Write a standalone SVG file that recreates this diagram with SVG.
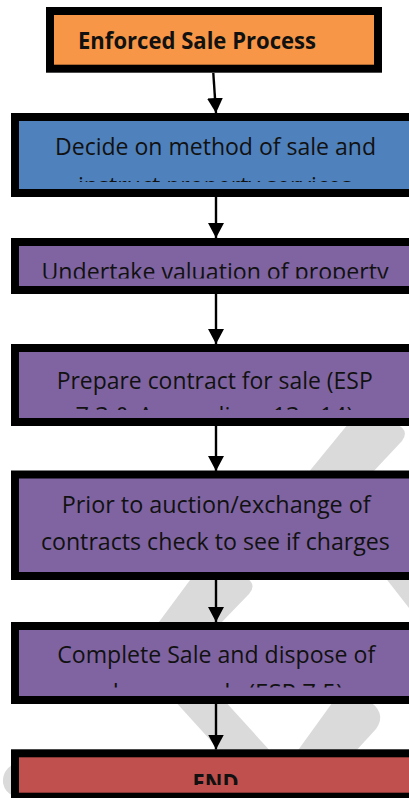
<svg xmlns="http://www.w3.org/2000/svg" width="409" height="798" viewBox="0 0 409 798">
<style>
.box{stroke:#000;stroke-width:8}
.t{font-family:"Open Sans","Liberation Sans",Arial,sans-serif;font-size:23px;fill:#111;text-anchor:middle}
.b{font-weight:bold}
.wm{fill:#dadada}
.c{stroke:#000;stroke-width:2.4;fill:none}
</style>
<defs>
<marker id="ah" markerUnits="userSpaceOnUse" markerWidth="18" markerHeight="17" refX="15" refY="8" orient="auto">
<path d="M0,0 L15,8 L0,16 Z" fill="#000"/>
</marker>
<clipPath id="c2"><rect x="19" y="120.7" width="390" height="61.3"/></clipPath>
<clipPath id="c3"><rect x="19" y="245.7" width="390" height="32.8"/></clipPath>
<clipPath id="c4"><rect x="19" y="351.7" width="390" height="58.3"/></clipPath>
<clipPath id="c6"><rect x="19" y="630" width="390" height="57.5"/></clipPath>
<clipPath id="c7"><rect x="19" y="757.3" width="390" height="27.7"/></clipPath>
</defs>
<rect width="409" height="798" fill="#fff"/>
<g id="watermark">
<path class="wm" d="M348,424 L396,424 Q410,430 402,441 L372,473 L308,473 Z"/>
<path class="wm" d="M193,576 L244,576 Q258,584 249,594 L218,626 L156,626 Z"/>
<path class="wm" d="M384,576 L409,576 L409,608 Z"/>
<path class="wm" d="M173,699 L223,699 L272,753 L222,753 Z"/>
<path class="wm" d="M335,699 L366,699 Q388,712 376,729 L354,753 L296,753 Z"/>
<path class="wm" d="M14,764 Q2,770 3,783 Q5,793 14,796 Z"/>
</g>
<g id="connectors">
<line class="c" x1="213.3" y1="73" x2="216" y2="113" marker-end="url(#ah)"/>
<line class="c" x1="216" y1="197" x2="216" y2="238" marker-end="url(#ah)"/>
<line class="c" x1="216" y1="294" x2="216" y2="344" marker-end="url(#ah)"/>
<line class="c" x1="216" y1="426" x2="216" y2="471" marker-end="url(#ah)"/>
<line class="c" x1="216" y1="580" x2="216" y2="622" marker-end="url(#ah)"/>
<line class="c" x1="216" y1="703" x2="216" y2="749.5" marker-end="url(#ah)"/>
</g>
<g id="n1">
<rect class="box" x="50" y="11" width="328" height="57.7" fill="#F79646"/>
<text class="t b" x="78" y="49" style="text-anchor:start" textLength="238" lengthAdjust="spacingAndGlyphs">Enforced Sale Process</text>
</g>
<g id="n2">
<rect class="box" x="15" y="117" width="410" height="76" fill="#4F81BD"/>
<g clip-path="url(#c2)">
<text class="t" x="215.5" y="155" textLength="321" lengthAdjust="spacingAndGlyphs">Decide on method of sale and</text>
<text class="t" x="215" y="194" textLength="274" lengthAdjust="spacingAndGlyphs">instruct property services</text>
</g>
</g>
<g id="n3">
<rect class="box" x="15" y="242" width="410" height="48" fill="#8064A2"/>
<g clip-path="url(#c3)">
<text class="t" x="215" y="280" textLength="347" lengthAdjust="spacingAndGlyphs">Undertake valuation of property</text>
</g>
</g>
<g id="n4">
<rect class="box" x="15" y="348" width="410" height="74" fill="#8064A2"/>
<g clip-path="url(#c4)">
<text class="t" x="214.7" y="389.3" textLength="316" lengthAdjust="spacingAndGlyphs">Prepare contract for sale (ESP</text>
<text class="t" x="214.5" y="423.5" textLength="278" lengthAdjust="spacingAndGlyphs">7.3 &amp; Appendices 13 - 14)</text>
</g>
</g>
<g id="n5">
<rect class="box" x="15" y="474.5" width="410" height="101.5" fill="#8064A2"/>
<text class="t" x="216.2" y="513.3" textLength="309" lengthAdjust="spacingAndGlyphs">Prior to auction/exchange of</text>
<text class="t" x="215.4" y="549.5" textLength="349" lengthAdjust="spacingAndGlyphs">contracts check to see if charges</text>
</g>
<g id="n6">
<rect class="box" x="15" y="626" width="410" height="74" fill="#8064A2"/>
<g clip-path="url(#c6)">
<text class="t" x="216.2" y="663.3" textLength="318" lengthAdjust="spacingAndGlyphs">Complete Sale and dispose of</text>
<text class="t" x="215.5" y="700.5" textLength="255" lengthAdjust="spacingAndGlyphs">sale proceeds (ESP 7.5)</text>
</g>
</g>
<g id="n7">
<rect class="box" x="15" y="753.3" width="410" height="43.4" fill="#C0504D"/>
<g clip-path="url(#c7)">
<text class="t b" x="215.5" y="791.4" textLength="46" lengthAdjust="spacingAndGlyphs">END</text>
</g>
</g>
</svg>
